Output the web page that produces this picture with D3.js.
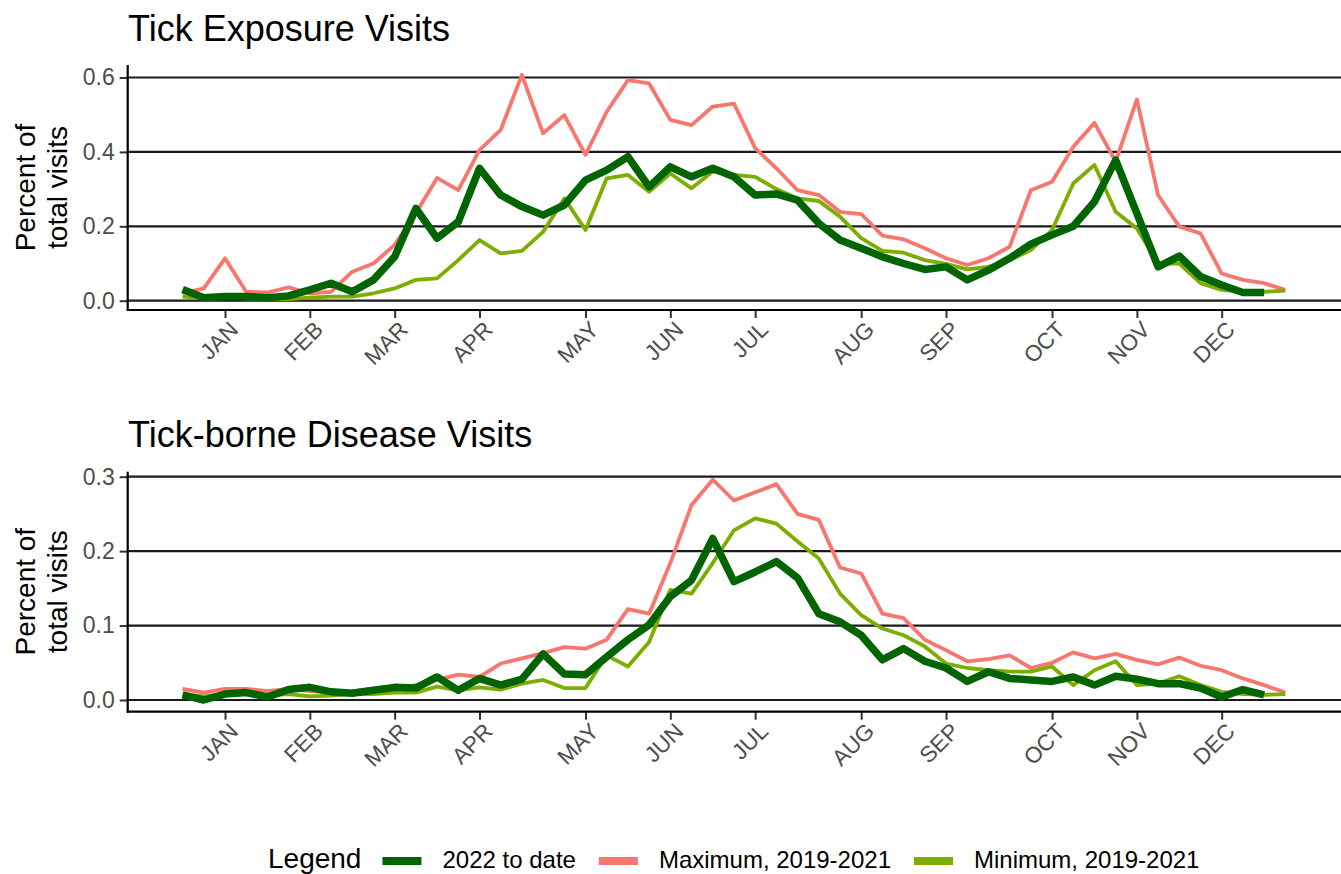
<!DOCTYPE html>
<html><head><meta charset="utf-8">
<script src="https://cdn.jsdelivr.net/npm/d3@7"></script>
<style>
body{margin:0;background:#fff}
svg{display:block}
text{font-family:"Liberation Sans",Arial,Helvetica,sans-serif}
</style>
</head><body>
<svg id="chart" width="1341" height="874"></svg>
<script>
// ---------- DATA (weekly, week 1..53) ----------
const monthLabels = ["JAN","FEB","MAR","APR","MAY","JUN","JUL","AUG","SEP","OCT","NOV","DEC"];
const monthWeeks  = [3, 7, 11, 15, 20, 24, 28, 33, 37, 42, 46, 50];

const seriesNames = ["2022 to date", "Maximum, 2019-2021", "Minimum, 2019-2021"];
const seriesColors = ["#006400", "#F8766D", "#7CAE00"];

// Tick Exposure Visits
const exposure2022 = [0.030,0.008,0.011,0.011,0.008,0.013,0.029,0.047,0.024,0.056,
  0.118,0.248,0.168,0.212,0.356,0.284,0.253,0.230,0.257,0.324,
  0.351,0.387,0.306,0.360,0.333,0.356,0.333,0.284,0.287,0.270,
  0.208,0.163,0.141,0.118,0.100,0.084,0.091,0.056,0.082,0.114,
  0.152,0.177,0.200,0.266,0.378,0.235,0.091,0.120,0.065,0.042,
  0.022,0.022];
const exposureMax = [0.020,0.033,0.114,0.024,0.022,0.036,0.020,0.024,0.078,0.100,
  0.150,0.235,0.330,0.297,0.405,0.459,0.607,0.450,0.499,0.392,
  0.508,0.593,0.584,0.486,0.472,0.522,0.530,0.410,0.356,0.297,
  0.284,0.239,0.233,0.175,0.165,0.141,0.114,0.096,0.114,0.145,
  0.297,0.320,0.414,0.478,0.374,0.541,0.284,0.199,0.181,0.073,
  0.056,0.047,0.029];
const exposureMin = [0.011,0.006,0.008,0.006,0.004,0.004,0.008,0.011,0.011,0.020,
  0.033,0.056,0.060,0.109,0.163,0.127,0.134,0.185,0.275,0.190,
  0.329,0.338,0.293,0.342,0.302,0.347,0.338,0.333,0.300,0.275,
  0.268,0.226,0.168,0.134,0.129,0.109,0.099,0.084,0.091,0.109,
  0.136,0.190,0.315,0.365,0.239,0.194,0.100,0.100,0.047,0.029,
  0.024,0.024,0.027];

// Tick-borne Disease Visits
const disease2022 = [0.007,0.000,0.008,0.010,0.004,0.014,0.017,0.011,0.009,0.013,
  0.017,0.016,0.031,0.013,0.029,0.020,0.028,0.062,0.035,0.034,
  0.058,0.081,0.101,0.139,0.161,0.217,0.159,0.172,0.186,0.164,
  0.116,0.105,0.087,0.054,0.069,0.052,0.043,0.025,0.038,0.029,
  0.027,0.025,0.031,0.020,0.032,0.028,0.022,0.022,0.016,0.004,
  0.014,0.007];
const diseaseMax = [0.015,0.010,0.015,0.015,0.012,0.015,0.012,0.010,0.012,0.015,
  0.015,0.020,0.027,0.034,0.031,0.049,0.056,0.063,0.071,0.069,
  0.081,0.122,0.116,0.184,0.262,0.296,0.268,0.279,0.290,0.250,
  0.242,0.178,0.170,0.116,0.110,0.081,0.067,0.052,0.055,0.060,
  0.043,0.050,0.064,0.056,0.062,0.054,0.048,0.057,0.046,0.040,
  0.029,0.020,0.010];
const diseaseMin = [0.008,0.005,0.008,0.008,0.006,0.008,0.005,0.006,0.008,0.008,
  0.010,0.010,0.018,0.013,0.017,0.014,0.022,0.027,0.016,0.016,
  0.060,0.045,0.078,0.148,0.143,0.184,0.228,0.244,0.237,0.213,
  0.190,0.143,0.114,0.096,0.087,0.072,0.049,0.043,0.040,0.038,
  0.038,0.045,0.020,0.040,0.052,0.020,0.022,0.032,0.020,0.011,
  0.008,0.007,0.008];

const exposureTicks = [0, 0.2, 0.4, 0.6];
const diseaseTicks  = [0, 0.1, 0.2, 0.3];

// ---------- LAYOUT ----------
const svg = d3.select("#chart");
const panelLeft = 127.7, panelRight = 1341;
const x = d3.scaleLinear().domain([3, 50]).range([225, 1221.7]);

const panels = [
  { title: "Tick Exposure Visits", titleY: 40.7, top: 65, bottom: 310,
    y: d3.scaleLinear().domain([0, 0.6]).range([300.7, 77.5]),
    ticks: exposureTicks, data: [exposure2022, exposureMax, exposureMin] },
  { title: "Tick-borne Disease Visits", titleY: 446.7, top: 471.7, bottom: 711.7,
    y: d3.scaleLinear().domain([0, 0.3]).range([700, 476.7]),
    ticks: diseaseTicks, data: [disease2022, diseaseMax, diseaseMin] }
];

panels.forEach(p => {
  const g = svg.append("g");
  // gridlines
  g.selectAll("line.grid").data(p.ticks).enter().append("line")
    .attr("x1", panelLeft).attr("x2", panelRight)
    .attr("y1", d => p.y(d)).attr("y2", d => p.y(d))
    .attr("stroke", "#1a1a1a").attr("stroke-width", 2.2);

  // y axis
  const yAxis = g.append("g").attr("transform", `translate(${panelLeft},0)`)
    .call(d3.axisLeft(p.y).tickValues(p.ticks).tickFormat(d3.format(".1f")).tickSize(8).tickPadding(5));
  yAxis.select(".domain").remove();
  yAxis.selectAll(".tick line").attr("stroke", "#333").attr("stroke-width", 2);
  yAxis.selectAll(".tick text").attr("fill", "#4D4D4D").style("font-size", "23px");

  // x axis
  const xAxis = g.append("g").attr("transform", `translate(0,${p.bottom})`)
    .call(d3.axisBottom(x).tickValues(monthWeeks).tickFormat((d, i) => monthLabels[i]).tickSize(8));
  xAxis.select(".domain").remove();
  xAxis.selectAll(".tick line").attr("stroke", "#333").attr("stroke-width", 2);
  xAxis.selectAll(".tick text")
    .attr("fill", "#4D4D4D").style("font-size", "22.5px")
    .attr("x", 0).attr("y", 0).attr("dy", 0)
    .attr("transform", "translate(14,21) rotate(-45)")
    .style("text-anchor", "end");

  // axis lines
  g.append("line").attr("x1", panelLeft).attr("x2", panelLeft)
    .attr("y1", p.top).attr("y2", p.bottom + 1)
    .attr("stroke", "#000").attr("stroke-width", 2.2);
  g.append("line").attr("x1", panelLeft - 1).attr("x2", panelRight)
    .attr("y1", p.bottom).attr("y2", p.bottom)
    .attr("stroke", "#000").attr("stroke-width", 2.2);

  // lines: draw max, min, then 2022 on top
  const line = d3.line().x((d, i) => x(i + 1)).y(d => p.y(d));
  [1, 2, 0].forEach(si => {
    g.append("path").datum(p.data[si])
      .attr("d", line)
      .attr("fill", "none")
      .attr("stroke", seriesColors[si])
      .attr("stroke-width", si === 0 ? 7.5 : 3.8)
      .attr("stroke-linejoin", "round")
      .attr("stroke-linecap", "butt");
  });

  // title
  svg.append("text").attr("x", 128).attr("y", p.titleY)
    .style("font-size", "36px").attr("fill", "#000").text(p.title);

  // y title
  const cy = (p.top + p.bottom) / 2;
  const yt = svg.append("text")
    .attr("transform", `translate(34.5,${cy}) rotate(-90)`)
    .style("font-size", "28px").attr("fill", "#000")
    .style("text-anchor", "middle");
  yt.append("tspan").attr("x", 0).attr("y", 0).text("Percent of");
  yt.append("tspan").attr("x", 0).attr("y", 32).text("total visits");
});

// ---------- LEGEND ----------
const lg = svg.append("g");
const legY = 868;
let lx = 268;
const lt = lg.append("text").attr("x", lx).attr("y", legY)
  .style("font-size", "28px").attr("fill", "#000").text("Legend");
lx += lt.node().getComputedTextLength() + 21;
seriesNames.forEach((name, i) => {
  lg.append("line").attr("x1", lx).attr("x2", lx + 39)
    .attr("y1", 861).attr("y2", 861)
    .attr("stroke", seriesColors[i]).attr("stroke-width", 8);
  const t = lg.append("text").attr("x", lx + 60).attr("y", legY)
    .style("font-size", "24px").attr("fill", "#000").text(name);
  lx += 60 + t.node().getComputedTextLength() + 23;
});
</script>
</body></html>
